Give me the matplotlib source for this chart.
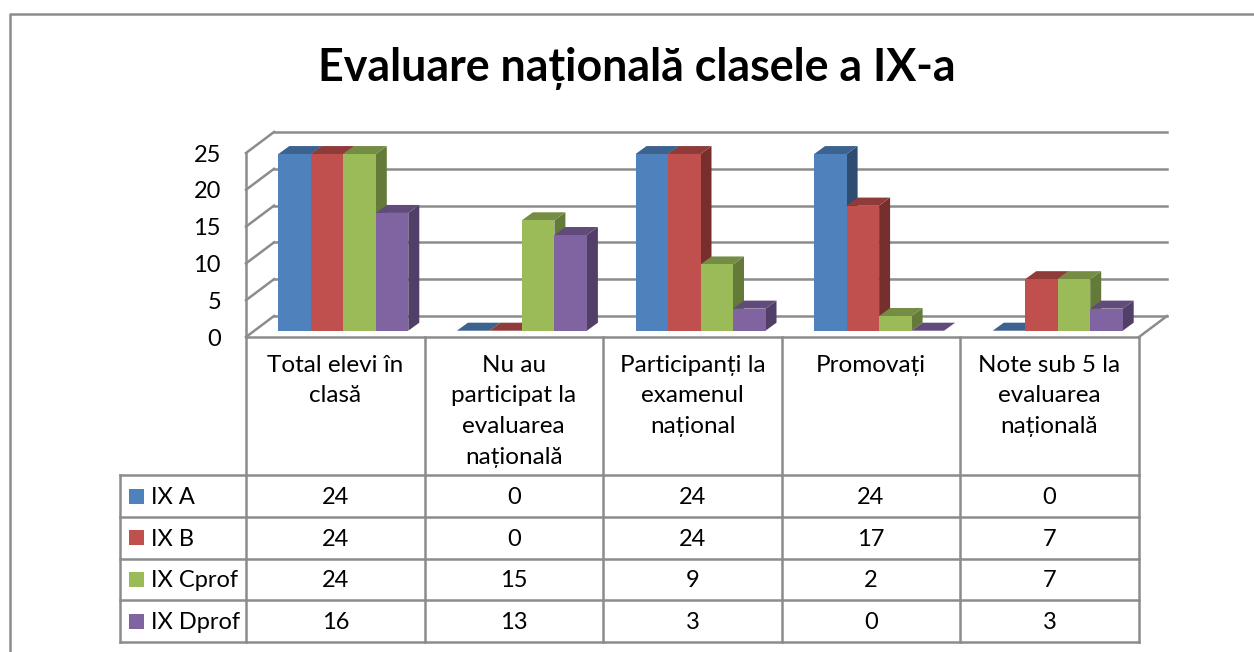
import matplotlib
matplotlib.use("Agg")
import matplotlib.pyplot as plt
from matplotlib.lines import Line2D
from matplotlib.patches import Polygon, Rectangle

plt.rcParams['font.family'] = ['Lato', 'Open Sans', 'DejaVu Sans']

W, H = 1254, 652

title = "Evaluare națională clasele a IX-a"
categories = ["Total elevi în\nclasă",
              "Nu au\nparticipat la\nevaluarea\nnațională",
              "Participanți la\nexamenul\nnațional",
              "Promovați",
              "Note sub 5 la\nevaluarea\nnațională"]
series = ["IX A", "IX B", "IX Cprof", "IX Dprof"]
ix_a = [24, 0, 24, 24, 0]
ix_b = [24, 0, 24, 17, 7]
ix_c = [24, 15, 9, 2, 7]
ix_d = [16, 13, 3, 0, 3]
values = [ix_a, ix_b, ix_c, ix_d]
y_ticks = [0, 5, 10, 15, 20, 25]

front = ["#4F81BD", "#C0504D", "#9BBB59", "#8064A2"]
top = ["#3C628F", "#8F3B39", "#748C43", "#604B7A"]
side = ["#2F4D71", "#772F2D", "#647A38", "#523F68"]
grid_col = "#8C8C8C"

fig = plt.figure(figsize=(W / 100, H / 100), dpi=100)

# px helper, the 3d box of the chart sits on this axes
ax = fig.add_axes([246 / W, 1 - 337 / H, (1139 - 246) / W, (337 - 153) / H])
ax.set_xlim(0, 5)
ax.set_ylim(0, 25)
ax.axis("off")

# depth of the floor and of the bars in data units
px_x = 5 / (1139 - 246)
px_y = 25 / (337 - 153)
floor_dx, floor_dy = 28 * px_x, 21 * px_y
bar_dx, bar_dy = 11 * px_x, 8 * px_y
bar_lift = 6.3 * px_y
bar_w = 32.5 * px_x
bar_start = 32.3 * px_x


def line(xs, ys, lw=1.8, z=1):
    ax.add_line(Line2D(xs, ys, color=grid_col, lw=lw, clip_on=False, zorder=z,
                       solid_capstyle="projecting"))


# walls and gridlines
for t in y_ticks:
    line([0, floor_dx], [t, t + floor_dy])
    line([floor_dx, 5 + floor_dx], [t + floor_dy, t + floor_dy])
    ax.text(-25 * px_x, t - 2 * px_y, str(t), ha="right", va="center", fontsize=17, color="black")
line([0, 0], [0, 25])
line([0, 5], [0, 0])
line([5, 5 + floor_dx], [0, floor_dy])

# bars, back to front so the neighbours overlap like the 3d original
for i in range(len(categories)):
    for j in range(len(series)):
        v = values[j][i]
        x0 = i + bar_start + j * bar_w
        x1 = x0 + bar_w
        y0 = bar_lift
        y1 = bar_lift + v
        ax.add_patch(Polygon([(x1, y0), (x1 + bar_dx, y0 + bar_dy), (x1 + bar_dx, y1 + bar_dy), (x1, y1)],
                             facecolor=side[j], edgecolor="none", clip_on=False, zorder=2 + j))
        ax.add_patch(Polygon([(x0, y1), (x1, y1), (x1 + bar_dx, y1 + bar_dy), (x0 + bar_dx, y1 + bar_dy)],
                             facecolor=top[j], edgecolor="none", clip_on=False, zorder=2 + j))
        if v > 0:
            ax.add_patch(Rectangle((x0, y0), bar_w, v, facecolor=front[j], edgecolor="none",
                                   clip_on=False, zorder=2 + j))

# table under the chart, pixel positions
cols = [246, 424.6, 603, 782, 960, 1139]
rows = [475, 517, 558.5, 600, 642]
overlay = fig.add_axes([0, 0, 1, 1], facecolor="none")
overlay.set_xlim(0, W)
overlay.set_ylim(H, 0)
overlay.axis("off")

for x in cols:
    overlay.plot([x, x], [337, 642], color=grid_col, lw=1.8)
overlay.plot([120, 120], [475, 642], color=grid_col, lw=1.8)
for y in rows:
    overlay.plot([120, 1139], [y, y], color=grid_col, lw=1.8)

for i, name in enumerate(categories):
    overlay.text((cols[i] + cols[i + 1]) / 2, 354.5, name, ha="center", va="top",
                 fontsize=17.5, linespacing=1.58, color="black")

for j, name in enumerate(series):
    yc = (rows[j] + rows[j + 1]) / 2
    overlay.add_patch(Rectangle((129, yc - 7.5), 15, 15, facecolor=front[j], edgecolor="none"))
    overlay.text(151, yc + 1.5, name, ha="left", va="center", fontsize=17, color="black")
    for i in range(len(categories)):
        overlay.text((cols[i] + cols[i + 1]) / 2, yc + 1.5, str(values[j][i]), ha="center", va="center",
                     fontsize=17, color="black")

overlay.text(637, 69, title, ha="center", va="center", fontsize=32.2, fontweight="bold", color="black")

# outer frame of the embedded chart, no right edge in the crop
overlay.plot([10, 10, W], [H, 14, 14], color=grid_col, lw=1.8, clip_on=False)

fig.savefig("out.png", dpi=100, facecolor="white")
